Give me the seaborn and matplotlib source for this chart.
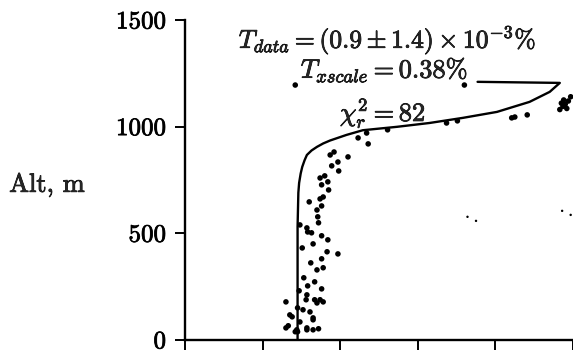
import matplotlib
matplotlib.use("Agg")
import matplotlib.pyplot as plt
import matplotlib.patheffects as pe
import pandas as pd
import seaborn as sns

# model curve (arbitrary x units, altitude in m)
curve_x = [1.45, 1.45, 1.46, 1.47, 1.49, 1.51, 1.54, 1.57, 1.63, 1.70, 1.78, 1.87, 2.08,
           2.29, 2.73, 3.15, 3.58, 4.02, 4.44, 4.70, 4.83, 3.77]
curve_alt = [0, 530, 690, 736, 780, 811, 842, 867, 888, 905, 921, 935, 961,
             983, 999, 1017, 1041, 1069, 1116, 1163, 1205, 1210]

# measured points
data_x = [1.30, 1.33, 1.35, 1.38, 1.30, 1.42, 1.45, 1.44, 1.48, 1.45, 1.52, 1.57, 1.57,
          1.65, 1.72, 1.61, 1.65, 1.65, 1.57, 1.56, 1.67, 1.70, 1.74, 1.78, 1.47, 1.58,
          1.76, 1.67, 1.53, 1.70, 1.78, 1.62, 1.76, 1.83, 1.97, 1.51, 1.65, 1.76, 1.84,
          1.58, 1.63, 1.48, 1.72, 1.57, 1.71, 1.76, 1.70, 1.60, 1.74, 1.78, 1.85, 1.76,
          1.84, 1.74, 1.80, 1.98, 1.89, 1.97, 2.10, 1.87, 1.92, 2.23, 2.34, 2.36, 2.61,
          3.37, 3.51, 4.21, 4.25, 4.41, 1.42, 3.60,
          4.83, 4.87, 4.90, 4.94, 4.97, 4.88, 4.92, 4.85]
data_alt = [56, 66, 117, 108, 178, 38, 38, 47, 84, 150, 141, 47, 56,
            47, 52, 131, 103, 94, 211, 188, 188, 173, 188, 178, 230, 253,
            239, 272, 291, 328, 338, 361, 380, 413, 403, 431, 450, 488, 469,
            506, 502, 539, 549, 525, 577, 628, 609, 647, 661, 670, 703, 727,
            741, 759, 769, 792, 816, 834, 858, 867, 881, 947, 970, 919, 985,
            1017, 1027, 1041, 1045, 1055, 1195, 1195,
            1080, 1095, 1105, 1120, 1140, 1125, 1085, 1110]

# faint specks
faint_x = [3.64, 3.75, 4.86, 4.97]
faint_alt = [577, 558, 605, 586]

sns.set_style("ticks")
plt.rcParams["font.family"] = ["cmr10", "DejaVu Serif"]
plt.rcParams["mathtext.fontset"] = "cm"
plt.rcParams["axes.formatter.use_mathtext"] = True

bold = [pe.withStroke(linewidth=0.55, foreground="black")]

fig = plt.figure(figsize=(5.73, 3.54), dpi=100)
ax = fig.add_axes([0.323, 0.04, 0.677, 0.9035])

curve = pd.DataFrame({"x": curve_x, "alt": curve_alt})
pts = pd.DataFrame({"x": data_x, "alt": data_alt})
faint = pd.DataFrame({"x": faint_x, "alt": faint_alt})

sns.lineplot(data=curve, x="x", y="alt", sort=False, estimator=None,
             color="black", lw=1.7, ax=ax)
sns.scatterplot(data=pts, x="x", y="alt", color="black", s=16, edgecolor="none", ax=ax)
sns.scatterplot(data=faint, x="x", y="alt", color="black", s=3, edgecolor="none", ax=ax)

ax.set_xlim(0, 5)
ax.set_ylim(0, 1500)
ax.set_xticks([0, 1, 2, 3, 4, 5])
ax.set_xticklabels([])
ax.set_yticks([0, 500, 1000, 1500])
ax.set_xlabel("")
ax.set_ylabel("Alt, m", rotation=0, fontsize=19, va="center", ha="center")
ax.yaxis.set_label_coords(-0.356, 0.484)
ax.yaxis.label.set_path_effects(bold)
ax.tick_params(axis="both", direction="out", length=7, width=1.4, labelsize=18, colors="black")
ax.tick_params(axis="y", pad=6)
for lab in ax.get_yticklabels():
    lab.set_path_effects(bold)
for side in ["left", "bottom"]:
    ax.spines[side].set_linewidth(1.7)
    ax.spines[side].set_color("black")
sns.despine(ax=ax)
ax.patch.set_alpha(0)

ax.text(2.61, 1406, r"$T_{data} = (0.9 \pm 1.4) \times 10^{-3}\%$", fontsize=18.5,
        ha="center", va="center", path_effects=bold)
ax.text(2.57, 1266, r"$T_{xscale} = 0.38\%$", fontsize=19, ha="center", va="center",
        path_effects=bold)
ax.text(2.55, 1064, r"$\chi_r^2 = 82$", fontsize=19, ha="center", va="center",
        path_effects=bold)

fig.savefig("out.png", dpi=100)
